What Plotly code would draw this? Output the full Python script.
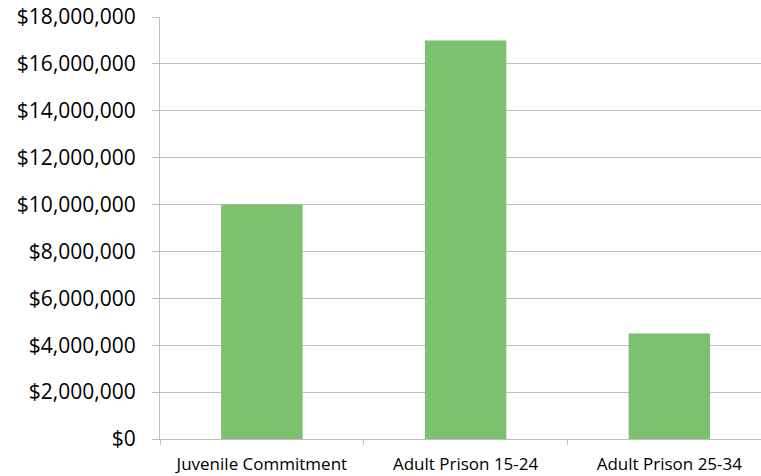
import plotly.graph_objects as go

categories = ["Juvenile Commitment", "Adult Prison 15-24", "Adult Prison 25-34"]
costs = [10000000, 17000000, 4500000]
y_ticks = list(range(0, 18000001, 2000000))
y_tick_labels = ["${:,}".format(v) for v in y_ticks]

grid = "#BFBFBF"

fig = go.Figure(
    go.Bar(
        x=categories,
        y=costs,
        marker=dict(color="#7DC06F", line=dict(width=0)),
        width=0.4,
    )
)

fig.update_layout(
    width=761,
    height=476,
    margin=dict(l=160, r=0, t=17, b=37),
    paper_bgcolor="white",
    plot_bgcolor="white",
    showlegend=False,
    font=dict(family="Open Sans", color="#000000"),
    xaxis=dict(
        range=[-0.5, 2.45],
        showline=True,
        linecolor=grid,
        linewidth=1,
        ticks="outside",
        tickson="boundaries",
        ticklen=5,
        tickcolor=grid,
        showgrid=False,
        ticklabelstandoff=10,
        tickfont=dict(size=17),
    ),
    yaxis=dict(
        range=[0, 18000000],
        tickvals=y_ticks,
        ticktext=y_tick_labels,
        showgrid=True,
        gridcolor=grid,
        gridwidth=1,
        zeroline=False,
        showline=True,
        linecolor=grid,
        linewidth=1,
        ticks="outside",
        ticklen=7,
        tickcolor=grid,
        ticklabelstandoff=12,
        tickfont=dict(size=21),
    ),
)

fig.write_html("out.html")
